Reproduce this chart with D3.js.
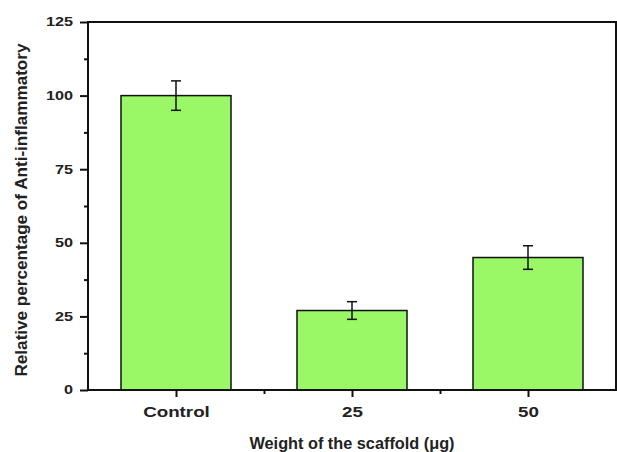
<!DOCTYPE html>
<html><head><meta charset="utf-8">
<script src="https://cdn.jsdelivr.net/npm/d3@7"></script>
<style>body{margin:0;background:#fff}svg{display:block}</style>
</head><body>
<svg id="c" width="617" height="452"></svg>
<script>
const categories = ["Control", "25", "50"];
const values = [100, 27, 45];
const errors = [5, 3, 4];
const yTicks = [0, 25, 50, 75, 100, 125];
const yMinor = [12.5, 37.5, 62.5, 87.5, 112.5];

const svg = d3.select("#c");
const L = 88, R = 616, T = 22, B = 390;
const x = d3.scaleLinear().domain([0.5, 3.5]).range([L, R]);
const y = d3.scaleLinear().domain([0, 125]).range([B, T]);
const barW = x(1.3125) - x(0.6875);
const font = "Arial, 'Liberation Sans', sans-serif";

function stretch(sel, k) {
  sel.each(function () {
    const w = this.getComputedTextLength();
    d3.select(this).attr("textLength", w * k).attr("lengthAdjust", "spacingAndGlyphs");
  });
}

// bars
svg.append("g").selectAll("rect").data(values).join("rect")
  .attr("x", (d, i) => x(i + 1) - barW / 2)
  .attr("y", d => y(d))
  .attr("width", barW)
  .attr("height", d => y(0) - y(d))
  .attr("fill", "#9af766").attr("stroke", "#111").attr("stroke-width", 1.5);

// error bars
const eg = svg.append("g").attr("stroke", "#111").attr("stroke-width", 1.5);
values.forEach((v, i) => {
  const cx = x(i + 1);
  eg.append("line").attr("x1", cx).attr("x2", cx).attr("y1", y(v + errors[i])).attr("y2", y(v - errors[i]));
  [v + errors[i], v - errors[i]].forEach(e => {
    eg.append("line").attr("x1", cx - 5).attr("x2", cx + 5).attr("y1", y(e)).attr("y2", y(e));
  });
});

// frame
svg.append("rect").attr("x", L).attr("y", T).attr("width", R - L).attr("height", B - T)
  .attr("fill", "none").attr("stroke", "#111").attr("stroke-width", 2);

// y axis
const ya = svg.append("g").attr("transform", `translate(${L},0)`)
  .call(d3.axisLeft(y).tickValues(yTicks).tickSize(8).tickPadding(7).tickFormat(d3.format("d")));
ya.select(".domain").remove();
ya.selectAll("line").attr("stroke", "#111").attr("stroke-width", 2);
ya.selectAll("text").attr("font-family", font).attr("font-weight", "bold").attr("font-size", 12).attr("fill", "#222");
stretch(ya.selectAll("text"), 1.35);
const yam = svg.append("g").attr("transform", `translate(${L},0)`)
  .call(d3.axisLeft(y).tickValues(yMinor).tickSize(4).tickFormat(""));
yam.select(".domain").remove();
yam.selectAll("line").attr("stroke", "#111").attr("stroke-width", 2);

// x axis
const xa = svg.append("g").attr("transform", `translate(0,${B})`)
  .call(d3.axisBottom(x).tickValues([1, 2, 3]).tickSize(7).tickPadding(9).tickFormat((d, i) => categories[i]));
xa.select(".domain").remove();
xa.selectAll("line").attr("stroke", "#111").attr("stroke-width", 2);
xa.selectAll("text").attr("font-family", font).attr("font-weight", "bold").attr("font-size", 15).attr("fill", "#222");
stretch(xa.selectAll("text"), 1.25);
const xam = svg.append("g").attr("transform", `translate(0,${B})`)
  .call(d3.axisBottom(x).tickValues([1.5, 2.5]).tickSize(4).tickFormat(""));
xam.select(".domain").remove();
xam.selectAll("line").attr("stroke", "#111").attr("stroke-width", 2);

// labels
svg.append("text").attr("x", 352).attr("y", 449).attr("text-anchor", "middle")
  .attr("font-family", font).attr("font-weight", "bold").attr("font-size", 16).attr("fill", "#222")
  .attr("textLength", 205).attr("lengthAdjust", "spacingAndGlyphs")
  .text("Weight of the scaffold (μg)");
svg.append("text").attr("transform", `translate(27,210) rotate(-90)`).attr("text-anchor", "middle")
  .attr("font-family", font).attr("font-weight", "bold").attr("font-size", 16).attr("fill", "#222")
  .attr("textLength", 333).attr("lengthAdjust", "spacingAndGlyphs")
  .text("Relative percentage of Anti-inflammatory");
</script>
</body></html>
